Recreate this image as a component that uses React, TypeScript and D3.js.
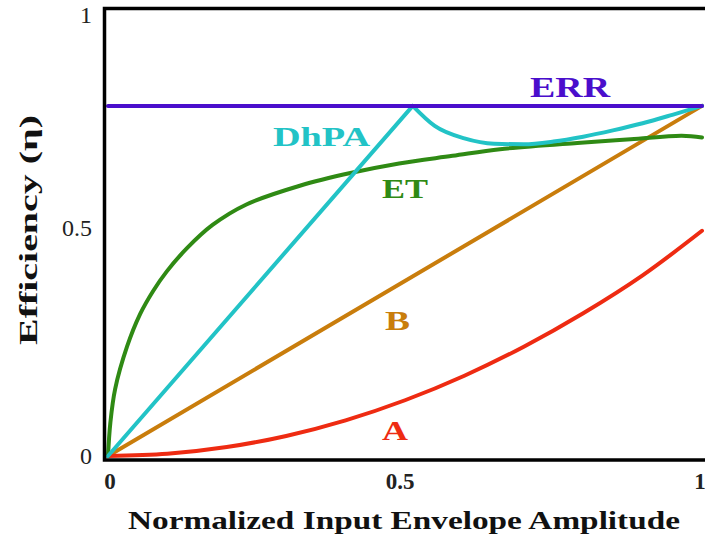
import React from "react";
import * as d3 from "d3";

const W = 705;
const H = 539;

// Series values (x = normalized input envelope amplitude, y = efficiency)
const errX = [0, 1];
const errY = [0.785, 0.785];

const dhpaX = [0, 0.513, 0.55, 0.6, 0.65, 0.7, 0.75, 0.8, 0.85, 0.9, 0.95, 1];
const dhpaY = [0, 0.785, 0.74, 0.712, 0.7, 0.699, 0.705, 0.716, 0.73, 0.746, 0.765, 0.785];

const etX = [0, 0.004, 0.012, 0.032, 0.054, 0.076, 0.099, 0.133, 0.176, 0.233, 0.323, 0.41, 0.49, 0.58, 0.66, 0.79, 0.88, 0.966, 1];
const etY = [0, 0.075, 0.15, 0.245, 0.318, 0.37, 0.414, 0.466, 0.518, 0.564, 0.606, 0.635, 0.656, 0.673, 0.688, 0.702, 0.71, 0.718, 0.714];

const bX = [0, 1];
const bY = [0, 0.785];

const aX = [0, 0.1, 0.2, 0.3, 0.4, 0.5, 0.6, 0.7, 0.8, 0.9, 1];
const aY = [0, 0.005, 0.02, 0.045, 0.08, 0.125, 0.18, 0.245, 0.32, 0.405, 0.505];

const xTicks = [0, 0.5, 1];
const xTickLabels = ["0", "0.5", "1"];
const yTicks = [0, 0.5, 1];
const yTickLabels = ["0", "0.5", "1"];

const FONT = "'Liberation Serif', 'DejaVu Serif', serif";

export default function App() {
  const x = d3.scaleLinear().domain([0, 1]).range([108, 702]);
  const y = d3.scaleLinear().domain([0, 1]).range([456, 10]);

  const mk = (xs: number[], ys: number[], curve: any = d3.curveLinear) =>
    d3
      .line<number>()
      .x((_, i) => x(xs[i]))
      .y((_, i) => y(ys[i]))
      .curve(curve)(xs) as string;

  const series = [
    { d: mk(bX, bY), color: "#c97d0c" },
    { d: mk(aX, aY, d3.curveMonotoneX), color: "#ee2b12" },
    { d: mk(etX, etY, d3.curveCatmullRom.alpha(0.5)), color: "#2f8a14" },
    { d: mk(dhpaX.slice(0, 2), dhpaY.slice(0, 2)), color: "#22c3c6" },
    { d: mk(dhpaX.slice(1), dhpaY.slice(1), d3.curveMonotoneX), color: "#22c3c6" },
    { d: mk(errX, errY), color: "#4a0ecc" },
  ];

  const frameLeft = 104.5;
  const frameTop = 8.5;
  const frameBottom = 460;

  return (
    <svg width={W} height={H} style={{ position: "absolute", left: 0, top: 0, background: "#fff" }}>
      <rect x={0} y={0} width={W} height={H} fill="#fff" />
      {series.map((s, i) => (
        <path key={i} d={s.d} fill="none" stroke={s.color} strokeWidth={4} strokeLinecap="round" strokeLinejoin="round" />
      ))}
      {/* frame */}
      <path
        d={`M${W + 5},${frameTop}H${frameLeft}V${frameBottom}H${W + 5}`}
        fill="none"
        stroke="#000"
        strokeWidth={3.5}
      />
      {/* y tick labels */}
      {yTicks.map((t, i) => (
        <text key={i} x={92} y={y(t) + (i === 0 ? 2 : i === 1 ? -3 : 7)} textAnchor="end" fontFamily={FONT} fontSize={24} fill="#222" dominantBaseline="middle">
          {yTickLabels[i]}
        </text>
      ))}
      {/* x tick labels */}
      {xTicks.map((t, i) => (
        <text key={i} x={x(t) + (i === 1 ? -5 : i === 2 ? -2 : 2)} y={489} textAnchor="middle" fontFamily={FONT} fontSize={23} fontWeight="bold" fill="#222">
          {xTickLabels[i]}
        </text>
      ))}
      {/* axis titles */}
      <text x={128} y={529} fontFamily={FONT} fontSize={25} fontWeight="bold" fill="#111" textLength={552} lengthAdjust="spacingAndGlyphs">
        Normalized Input Envelope Amplitude
      </text>
      <text transform="translate(37,345) rotate(-90)" fontFamily={FONT} fontSize={26} fontWeight="bold" fill="#111" textLength={230} lengthAdjust="spacingAndGlyphs">
        Efficiency (η)
      </text>
      {/* series labels */}
      <text x={530} y={97} fontFamily={FONT} fontSize={29} fontWeight="bold" fill="#4a0ecc" textLength={80} lengthAdjust="spacingAndGlyphs">ERR</text>
      <text x={273} y={146} fontFamily={FONT} fontSize={28} fontWeight="bold" fill="#22c3c6" textLength={97} lengthAdjust="spacingAndGlyphs">DhPA</text>
      <text x={382} y={198} fontFamily={FONT} fontSize={28} fontWeight="bold" fill="#2f8a14" textLength={46} lengthAdjust="spacingAndGlyphs">ET</text>
      <text x={385} y={330} fontFamily={FONT} fontSize={28} fontWeight="bold" fill="#c97d0c" textLength={25} lengthAdjust="spacingAndGlyphs">B</text>
      <text x={382} y={440} fontFamily={FONT} fontSize={28} fontWeight="bold" fill="#ee2b12" textLength={26} lengthAdjust="spacingAndGlyphs">A</text>
    </svg>
  );
}
